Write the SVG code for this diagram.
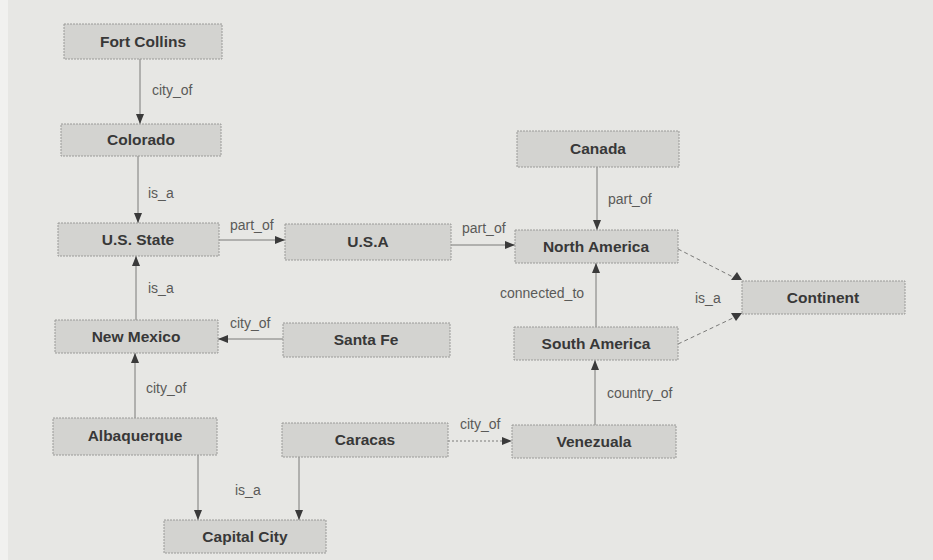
<svg xmlns="http://www.w3.org/2000/svg" width="933" height="560" viewBox="0 0 933 560">
<style>
.node rect{fill:#d3d3d0;stroke:#9a9a98;stroke-width:1;stroke-dasharray:2 1}
.node text{font-family:"Liberation Sans",Arial,sans-serif;font-weight:bold;font-size:15.5px;fill:#383838;text-anchor:middle}
.edge{stroke:#7a7a78;stroke-width:1;fill:none}
.dash{stroke-dasharray:4 3}
.dot{stroke-dasharray:2 2}
.lbl{font-family:"Liberation Sans",Arial,sans-serif;font-size:14px;fill:#5a5a58}
.head{fill:#3a3a3a}
</style>
<defs>
<marker id="arr" viewBox="0 0 10 8" refX="10" refY="4" markerWidth="10" markerHeight="8" markerUnits="userSpaceOnUse" orient="auto">
<path d="M0,0 L10,4 L0,8 Z" fill="#3a3a3a"/>
</marker>
</defs>
<rect x="0" y="0" width="933" height="560" fill="#e7e7e4"/>
<rect x="0" y="0" width="8" height="560" fill="#f1f1ef"/>

<g id="connectors">
<line class="edge" x1="140" y1="59" x2="140" y2="124" marker-end="url(#arr)"/>
<line class="edge" x1="138" y1="156" x2="138" y2="223" marker-end="url(#arr)"/>
<line class="edge" x1="219" y1="240" x2="285" y2="240" marker-end="url(#arr)"/>
<line class="edge" x1="451" y1="245" x2="515" y2="245" marker-end="url(#arr)"/>
<line class="edge" x1="597" y1="167" x2="597" y2="230" marker-end="url(#arr)"/>
<line class="edge" x1="596" y1="327" x2="596" y2="263" marker-end="url(#arr)"/>
<line class="edge" x1="283" y1="339" x2="218" y2="339" marker-end="url(#arr)"/>
<line class="edge" x1="136" y1="320" x2="136" y2="256" marker-end="url(#arr)"/>
<line class="edge" x1="135" y1="418" x2="135" y2="353" marker-end="url(#arr)"/>
<line class="edge" x1="198" y1="455" x2="198" y2="520" marker-end="url(#arr)"/>
<line class="edge" x1="299" y1="457" x2="299" y2="520" marker-end="url(#arr)"/>
<line class="edge dot" x1="448" y1="441" x2="512" y2="441" marker-end="url(#arr)"/>
<line class="edge" x1="595" y1="425" x2="595" y2="360" marker-end="url(#arr)"/>
<line class="edge dash" x1="678" y1="249" x2="733" y2="277"/>
<polygon class="head" points="731,280 742,280 737,272"/>
<line class="edge dash" x1="678" y1="344" x2="733" y2="318"/>
<polygon class="head" points="731,313 742,313 736,321"/>
<text class="lbl" x="152" y="95">city_of</text>
<text class="lbl" x="148" y="198">is_a</text>
<text class="lbl" x="230" y="230">part_of</text>
<text class="lbl" x="462" y="233">part_of</text>
<text class="lbl" x="608" y="204">part_of</text>
<text class="lbl" x="500" y="298">connected_to</text>
<text class="lbl" x="695" y="303">is_a</text>
<text class="lbl" x="230" y="328">city_of</text>
<text class="lbl" x="148" y="293">is_a</text>
<text class="lbl" x="146" y="393">city_of</text>
<text class="lbl" x="235" y="495">is_a</text>
<text class="lbl" x="460" y="429">city_of</text>
<text class="lbl" x="607" y="398">country_of</text>
</g>

<g id="fort-collins" class="node"><rect x="64" y="24" width="158" height="35"/><text x="143" y="47">Fort Collins</text></g>
<g id="colorado" class="node"><rect x="61" y="124" width="160" height="32"/><text x="141" y="145">Colorado</text></g>
<g id="us-state" class="node"><rect x="58" y="223" width="161" height="33"/><text x="138" y="245">U.S. State</text></g>
<g id="usa" class="node"><rect x="285" y="224" width="166" height="36"/><text x="368" y="247">U.S.A</text></g>
<g id="canada" class="node"><rect x="517" y="131" width="162" height="36"/><text x="598" y="154">Canada</text></g>
<g id="north-america" class="node"><rect x="515" y="230" width="163" height="33"/><text x="596" y="252">North America</text></g>
<g id="continent" class="node"><rect x="742" y="281" width="163" height="33"/><text x="823" y="303">Continent</text></g>
<g id="south-america" class="node"><rect x="514" y="327" width="164" height="33"/><text x="596" y="349">South America</text></g>
<g id="santa-fe" class="node"><rect x="283" y="323" width="167" height="34"/><text x="366" y="345">Santa Fe</text></g>
<g id="new-mexico" class="node"><rect x="55" y="320" width="163" height="33"/><text x="136" y="342">New Mexico</text></g>
<g id="albaquerque" class="node"><rect x="53" y="418" width="164" height="37"/><text x="135" y="441">Albaquerque</text></g>
<g id="caracas" class="node"><rect x="282" y="423" width="166" height="34"/><text x="365" y="445">Caracas</text></g>
<g id="venezuala" class="node"><rect x="512" y="425" width="164" height="33"/><text x="594" y="447">Venezuala</text></g>
<g id="capital-city" class="node"><rect x="164" y="520" width="162" height="33"/><text x="245" y="542">Capital City</text></g>
</svg>
